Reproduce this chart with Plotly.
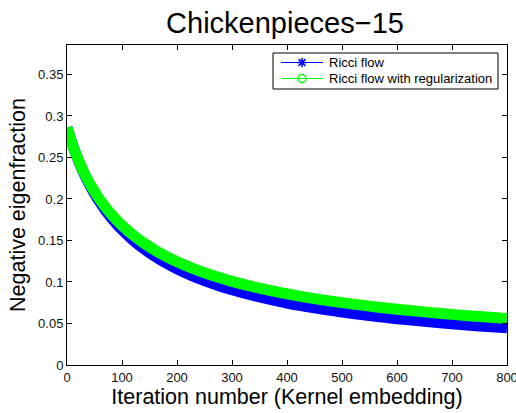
import plotly.graph_objects as go

# Iteration numbers at which the negative eigenfraction was sampled
iterations = [0, 5, 10, 20, 30, 40, 50, 60, 70, 80, 90, 100, 120, 140, 160, 180, 200,
              225, 250, 275, 300, 350, 400, 450, 500, 550, 600, 650, 700, 750, 800]

ricci_flow = [0.2860, 0.2752, 0.2653, 0.2475, 0.2321, 0.2186, 0.2066, 0.1960, 0.1865,
              0.1779, 0.1701, 0.1630, 0.1505, 0.1399, 0.1308, 0.1228, 0.1159, 0.1082,
              0.1016, 0.0958, 0.0906, 0.0819, 0.0747, 0.0688, 0.0638, 0.0595, 0.0558,
              0.0526, 0.0497, 0.0471, 0.0448]

ricci_flow_reg = [0.2860, 0.2752, 0.2653, 0.2480, 0.2331, 0.2202, 0.2089, 0.1989, 0.1900,
                  0.1820, 0.1747, 0.1681, 0.1566, 0.1468, 0.1383, 0.1310, 0.1245, 0.1174,
                  0.1112, 0.1057, 0.1008, 0.0926, 0.0857, 0.0800, 0.0751, 0.0709, 0.0672,
                  0.0640, 0.0610, 0.0584, 0.0561]

series_names = ["Ricci flow", "Ricci flow with regularization"]

x_ticks = [0, 100, 200, 300, 400, 500, 600, 700, 800]
y_ticks = [0, 0.05, 0.1, 0.15, 0.2, 0.25, 0.3, 0.35]
y_tick_text = ["0", "0.05", "0.1", "0.15", "0.2", "0.25", "0.3", "0.35"]

BLUE = "#0000ff"
GREEN = "#00ff00"
FONT = "Liberation Sans, Arial, sans-serif"

W, H = 516, 413
ML, MR, MT, MB = 67, 9, 45, 48
PW, PH = W - ML - MR, H - MT - MB


def px_x(p):
    """Pixel column -> paper x."""
    return (p - ML) / PW


def px_y(p):
    """Pixel row (from top) -> paper y."""
    return (H - MB - p) / PH


fig = go.Figure()

# Dense per-iteration markers form a solid band; drawn as a thick smooth stroke
fig.add_trace(go.Scatter(x=iterations, y=ricci_flow, mode="lines",
                         line=dict(color=BLUE, width=11, shape="spline", smoothing=1),
                         showlegend=False, hoverinfo="skip"))
fig.add_trace(go.Scatter(x=iterations, y=ricci_flow_reg, mode="lines",
                         line=dict(color=GREEN, width=11, shape="spline", smoothing=1),
                         showlegend=False, hoverinfo="skip"))

# Boxed legend (upper right), glyphs drawn on an overlay axis in paper units
box_l, box_r, box_t, box_b = 273, 498, 53, 89
rows = [62.5, 78.5]
seg_l, seg_r, text_l = 281, 323, 327
styles = [(BLUE, "asterisk-open"), (GREEN, "circle-open")]

fig.add_shape(type="rect", xref="paper", yref="paper",
              x0=px_x(box_l), x1=px_x(box_r), y0=px_y(box_b), y1=px_y(box_t),
              line=dict(color="black", width=1), fillcolor="white", layer="below")

for name, row, (col, sym) in zip(series_names, rows, styles):
    fig.add_trace(go.Scatter(x=[px_x(seg_l), px_x(seg_r)], y=[px_y(row), px_y(row)],
                             xaxis="x2", yaxis="y2", mode="lines",
                             line=dict(color=col, width=1), showlegend=False,
                             hoverinfo="skip"))
    fig.add_trace(go.Scatter(x=[px_x((seg_l + seg_r) / 2)], y=[px_y(row)],
                             xaxis="x2", yaxis="y2", mode="markers",
                             marker=dict(symbol=sym, size=8, color=col,
                                         line=dict(color=col, width=1.5)),
                             showlegend=False, hoverinfo="skip", cliponaxis=False))
    fig.add_annotation(text=name, xref="paper", yref="paper", x=px_x(text_l),
                       y=px_y(row), xanchor="left", yanchor="middle", showarrow=False,
                       font=dict(family=FONT, size=13, color="black"))

axis_common = dict(showline=True, linecolor="black", linewidth=1, mirror="ticks",
                   ticks="inside", ticklen=5, tickcolor="black", showgrid=False,
                   zeroline=False, automargin=False,
                   tickfont=dict(family=FONT, size=13, color="#111"))

fig.update_layout(
    template="none",
    width=W, height=H,
    margin=dict(l=ML, r=MR, t=MT, b=MB),
    paper_bgcolor="white", plot_bgcolor="white",
    xaxis=dict(range=[0, 800], tickvals=x_ticks, ticktext=[str(v) for v in x_ticks],
               ticklabeloverflow="allow",
               title=dict(text="Iteration number (Kernel embedding)",
                          font=dict(family=FONT, size=21.5, color="black"), standoff=3),
               **axis_common),
    yaxis=dict(range=[0, 0.3855], tickvals=y_ticks, ticktext=y_tick_text,
               title=dict(text="Negative eigenfraction",
                          font=dict(family=FONT, size=21.5, color="black"), standoff=6),
               **axis_common),
    xaxis2=dict(overlaying="x", range=[0, 1], visible=False, fixedrange=True,
                automargin=False),
    yaxis2=dict(overlaying="y", range=[0, 1], visible=False, fixedrange=True,
                automargin=False),
    title=dict(text="Chickenpieces\u221215", xref="paper", x=px_x(285),
               xanchor="center", yref="container", y=1 - 23 / H, yanchor="middle",
               font=dict(family=FONT, size=29, color="black")),
    showlegend=False,
)

fig.write_html("out.html")
